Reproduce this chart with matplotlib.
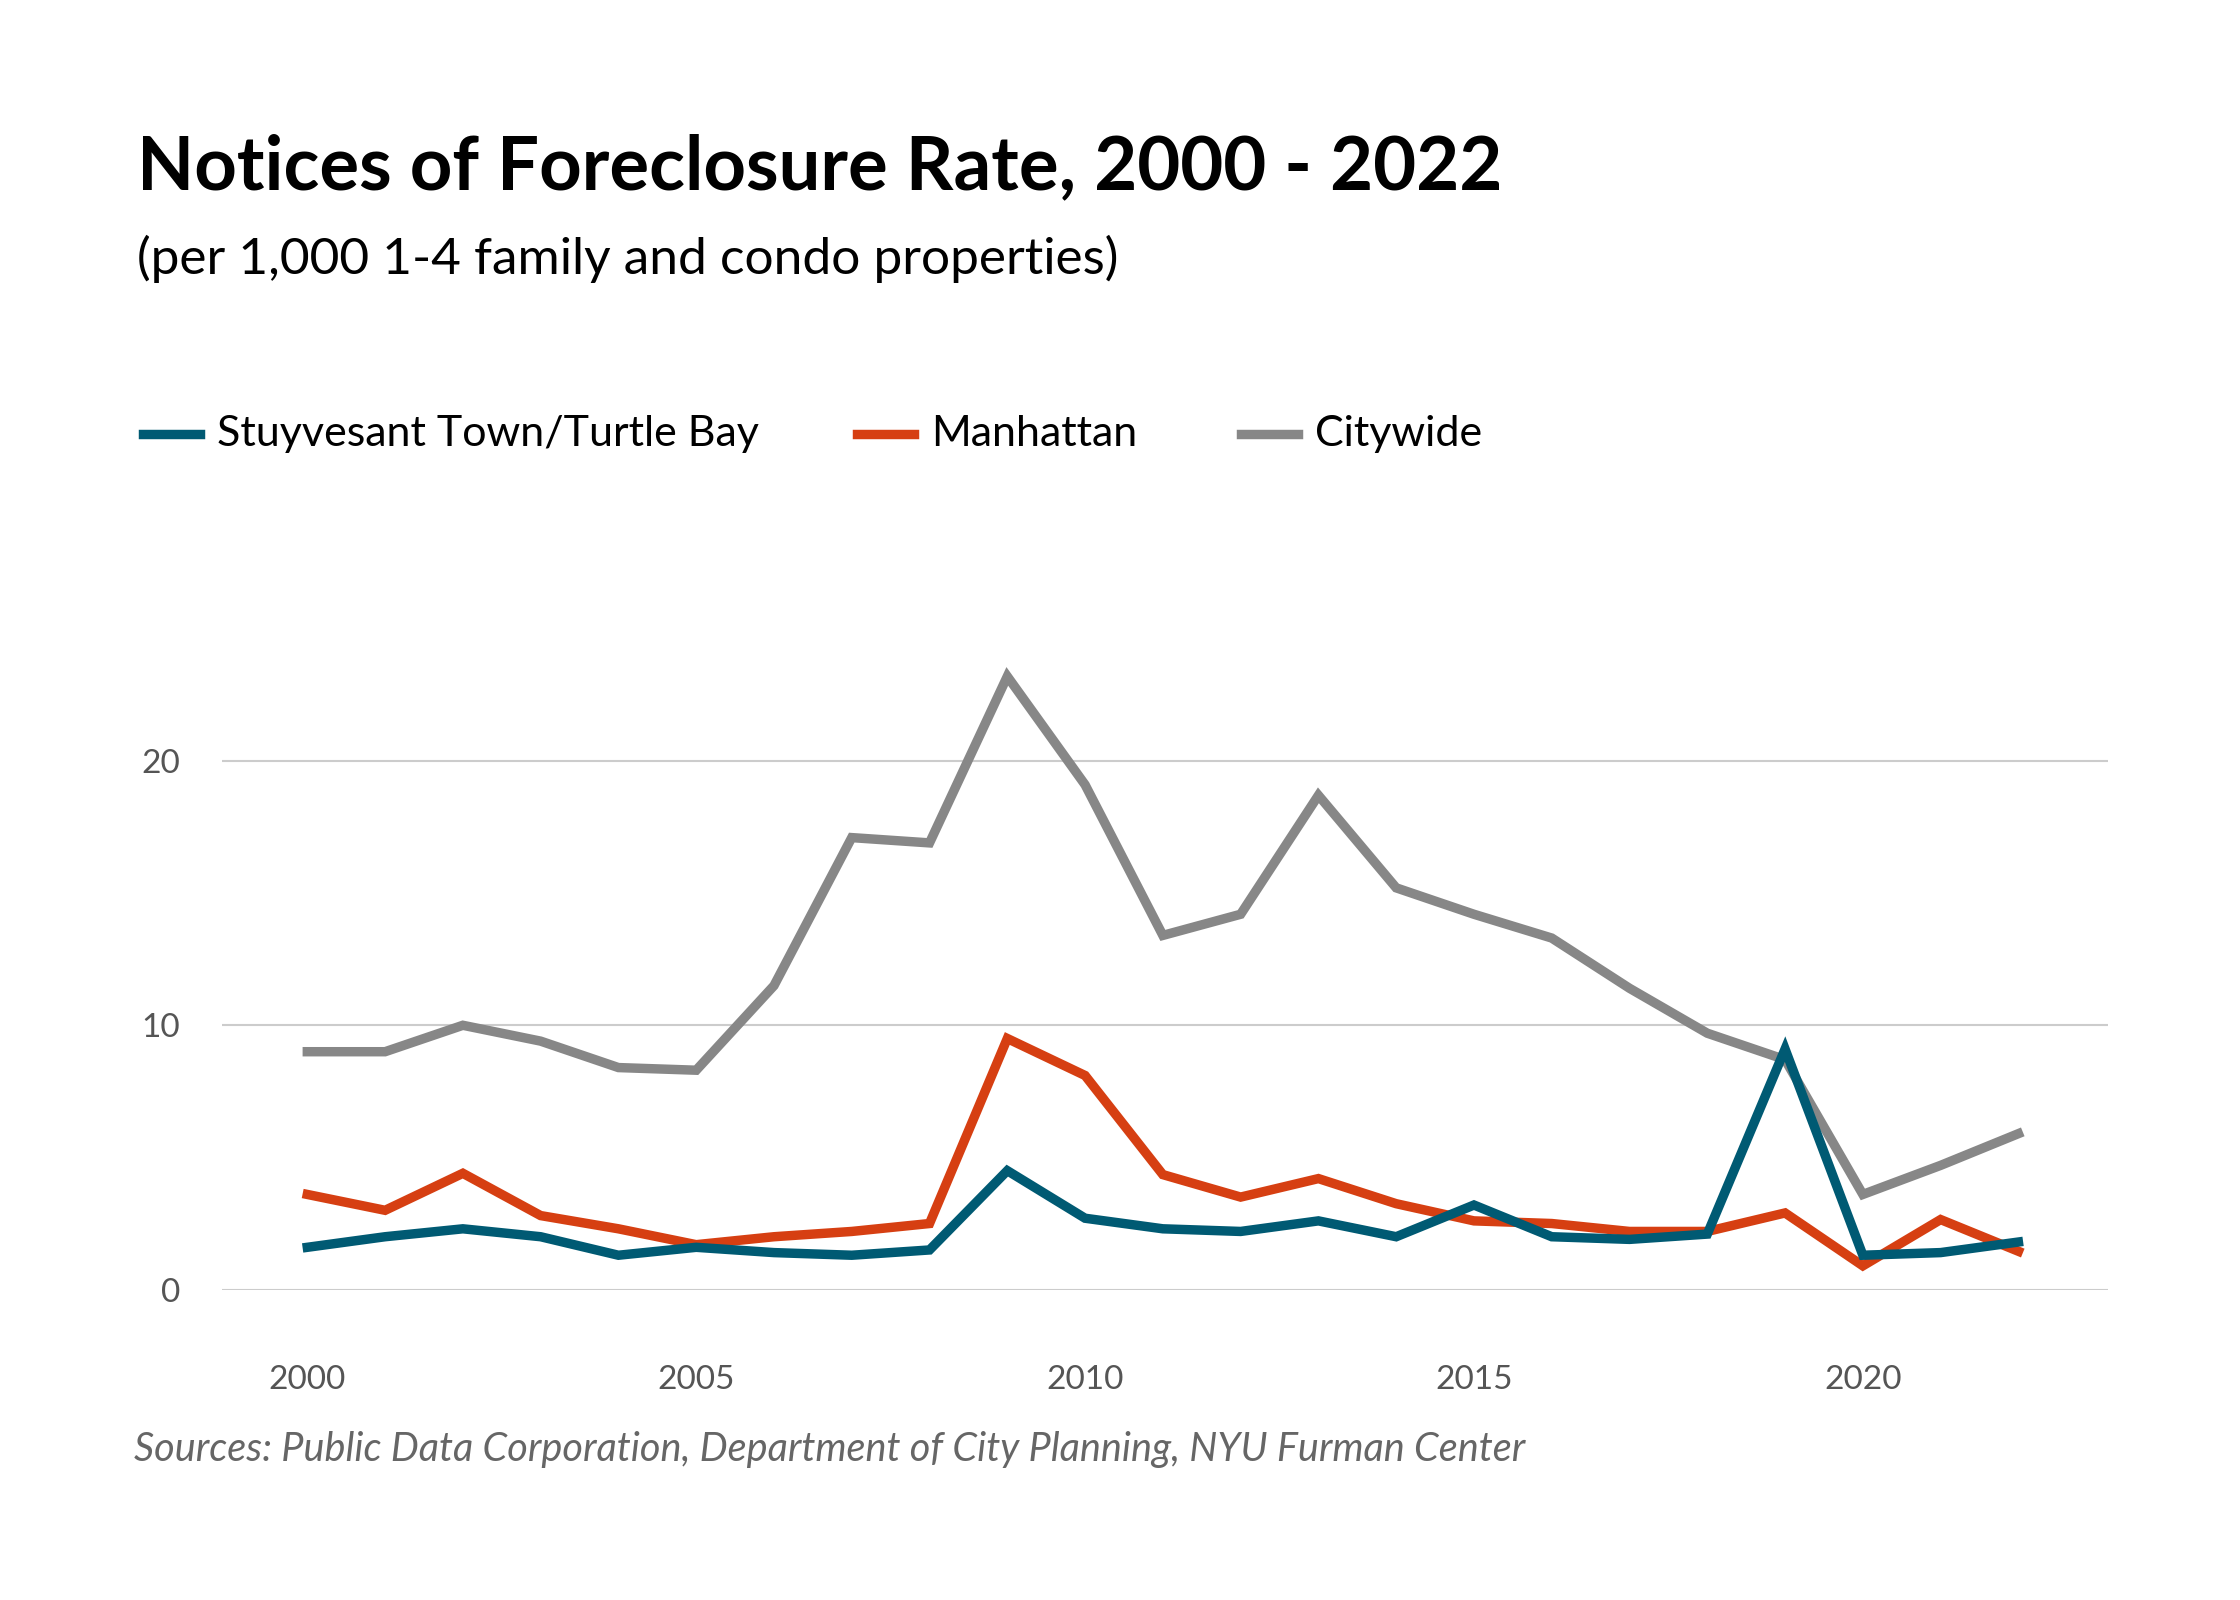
import matplotlib.pyplot as plt

years = list(range(2000, 2023))
stuyvesant = [1.6, 2.0, 2.3, 2.0, 1.3, 1.6, 1.4, 1.3, 1.5, 4.5, 2.7, 2.3,
              2.2, 2.6, 2.0, 3.2, 2.0, 1.9, 2.1, 9.1, 1.3, 1.4, 1.8]
manhattan = [3.6, 3.0, 4.4, 2.8, 2.3, 1.7, 2.0, 2.2, 2.5, 9.5, 8.1, 4.35,
             3.5, 4.2, 3.25, 2.6, 2.5, 2.2, 2.2, 2.9, 0.9, 2.65, 1.45]
citywide = [9.0, 9.0, 10.0, 9.4, 8.4, 8.3, 11.5, 17.1, 16.9, 23.2, 19.1, 13.4,
            14.2, 18.7, 15.2, 14.2, 13.3, 11.4, 9.7, 8.7, 3.6, 4.7, 5.9]

names = ["Stuyvesant Town/Turtle Bay", "Manhattan", "Citywide"]
colors = ["#005a73", "#d63f12", "#878787"]

plt.rcParams["font.family"] = ["Lato", "DejaVu Sans"]

fig = plt.figure(figsize=(22.4, 16), dpi=100)
ax = fig.add_axes([0.099, 0.194, 0.842, 0.413])

series = [stuyvesant, manhattan, citywide]
# citywide drawn first so the others sit on top
for vals, col in zip(series[::-1], colors[::-1]):
    ax.plot(years, vals, color=col, lw=6.8, solid_joinstyle="miter")

ax.set_xlim(1998.9, 2023.15)
ax.set_ylim(0, 25)
ax.set_yticks([0, 10, 20])
ax.set_xticks([2000, 2005, 2010, 2015, 2020])
ax.grid(axis="y", color="#cccccc", lw=1.5)
ax.set_axisbelow(True)
for s in ax.spines.values():
    s.set_visible(False)
ax.tick_params(length=0, labelsize=24, labelcolor="#555555")
ax.tick_params(axis="x", pad=54)
ax.tick_params(axis="y", pad=30)

fig.text(0.061, 0.895, "Notices of Foreclosure Rate, 2000 - 2022",
         fontsize=53.5, fontweight="bold", va="center", ha="left")
fig.text(0.061, 0.838, "(per 1,000 1-4 family and condo properties)",
         fontsize=37, va="center", ha="left")

leg_x = [0.064, 0.3825, 0.554]
for x, name, col in zip(leg_x, names, colors):
    fig.lines.append(plt.Line2D([x, x + 0.0255], [0.7286, 0.7286], color=col,
                                lw=6.8, transform=fig.transFigure))
    fig.text(x + 0.033, 0.7286, name, fontsize=31, va="center", ha="left")

fig.text(0.060, 0.094, "Sources: Public Data Corporation, Department of City Planning, NYU Furman Center",
         fontsize=28.5, style="italic", color="#666666",
         va="center", ha="left")

fig.savefig("out.png", dpi=100, facecolor="white")
